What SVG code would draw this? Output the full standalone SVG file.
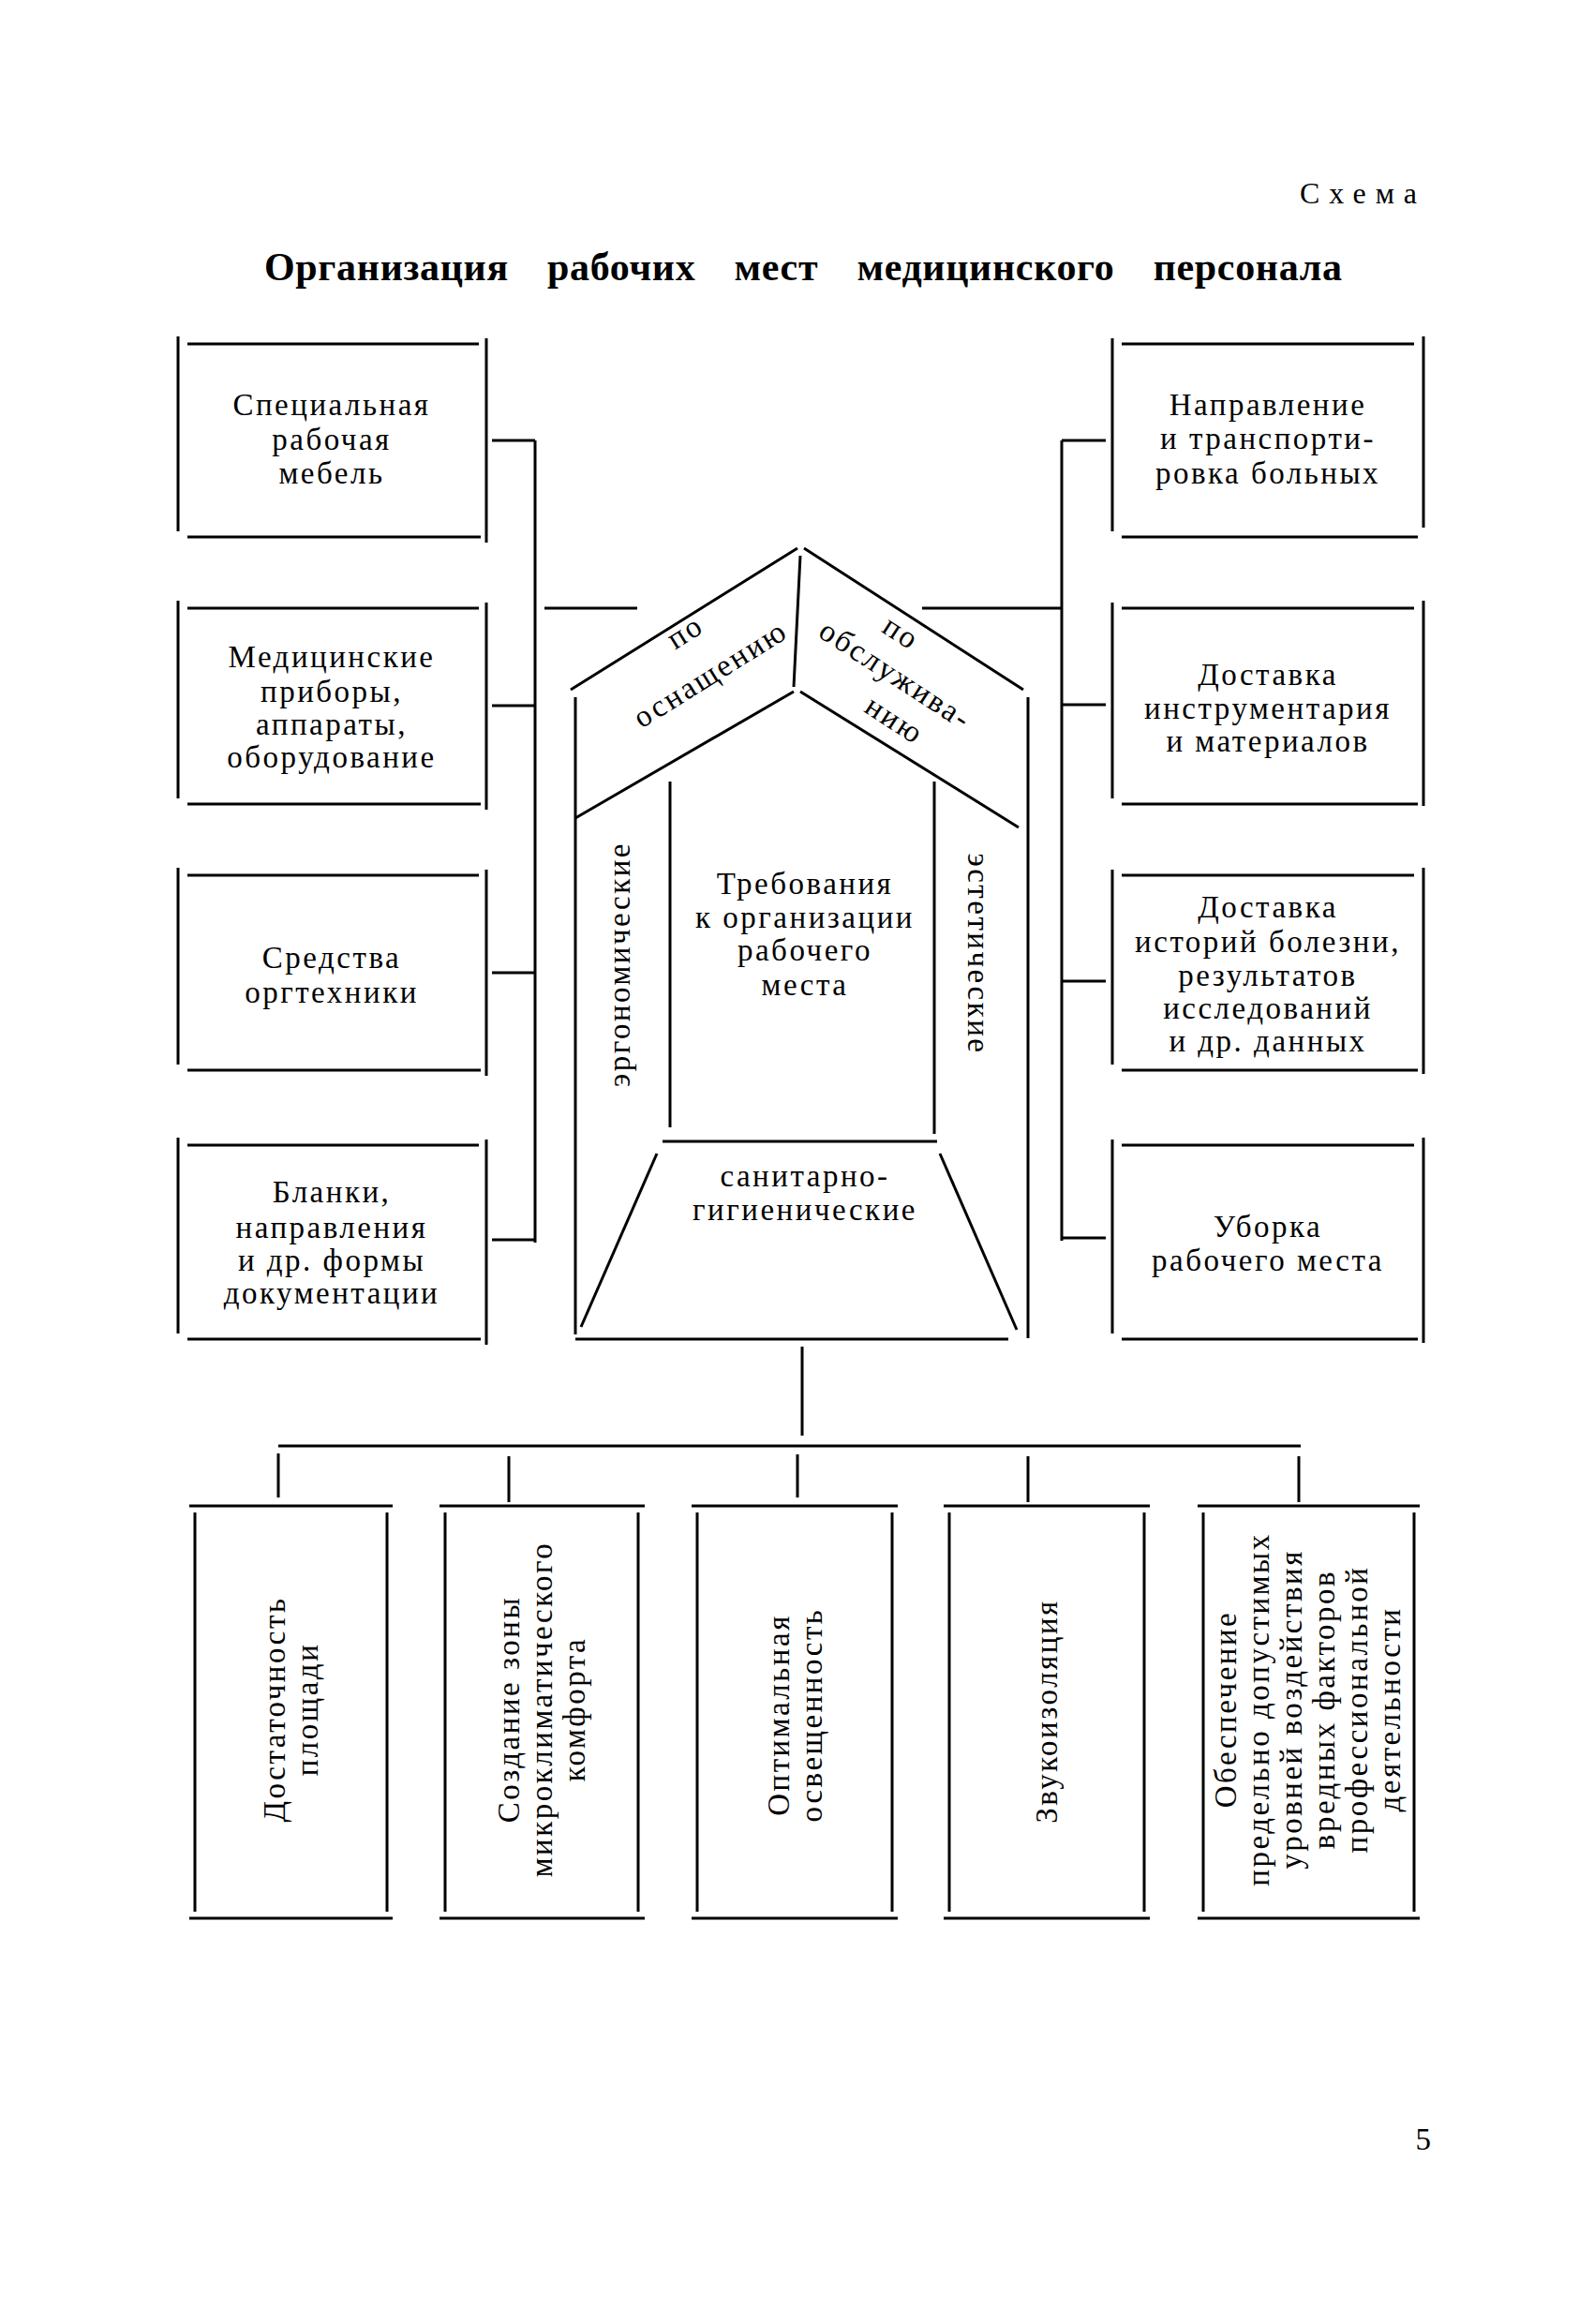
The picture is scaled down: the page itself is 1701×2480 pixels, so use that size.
<svg xmlns="http://www.w3.org/2000/svg" width="1701" height="2480" viewBox="0 0 1701 2480">
<style>
.ln{fill:none;stroke:#000;stroke-width:3;stroke-linecap:butt}
.t{font-family:"Liberation Serif","Times New Roman",serif;font-size:33px;letter-spacing:2.5px;fill:#000;text-anchor:middle}
.title{font-family:"Liberation Serif","Times New Roman",serif;font-size:42px;font-weight:bold;fill:#000;word-spacing:30px}
.sch{font-family:"Liberation Serif","Times New Roman",serif;font-size:32px;letter-spacing:10px;fill:#000;text-anchor:end}
</style>
<rect width="1701" height="2480" fill="#fff"/>
<text class="sch" x="1522" y="217">Схема</text>
<text class="title" x="282" y="299" textLength="1150" lengthAdjust="spacing">Организация рабочих мест медицинского персонала</text>

<g id="connectors">
<path class="ln" d="M571 470 V1326 M525 470 H571 M525 753 H571 M525 1038 H571 M525 1323 H571 M581 649 H680"/>
<path class="ln" d="M1133 470 V1324 M1133 470 H1180 M1133 752 H1180 M1133 1047 H1180 M1133 1321 H1180 M984 649 H1133"/>
<path class="ln" d="M856 1437 V1532 M297 1543 H1388 M297 1551 V1598 M543 1554 V1603 M851 1552 V1598 M1097 1554 V1603 M1386 1554 V1603"/>
</g>

<g id="house">
<path class="ln" d="M609 736 L851 585 M858 585 L1092 736 M854 593 L847 733"/>
<path class="ln" d="M614 873 L847 738 M854 738 L1087 883"/>
<path class="ln" d="M614 744 V1424 M1097 744 V1428"/>
<path class="ln" d="M715 834 V1203 M997 834 V1210"/>
<path class="ln" d="M707 1218 H1000 M701 1231 L620 1416 M1003 1231 L1085 1419 M614 1429 H1076"/>
<text class="t" transform="translate(731,674) rotate(-32)" y="11">по</text>
<text class="t" transform="translate(758,719) rotate(-32)" y="11">оснащению</text>
<text class="t" transform="translate(962,675) rotate(33)" y="11">по</text>
<text class="t" transform="translate(956,720) rotate(33)" y="11">обслужива-</text>
<text class="t" transform="translate(955,768) rotate(33)" y="11">нию</text>
<text class="t" transform="translate(661,1029) rotate(-90)" y="11">эргономические</text>
<text class="t" transform="translate(1044,1018) rotate(90)" y="11">эстетические</text>
<text class="t" x="859"><tspan x="859" y="954">Требования</tspan><tspan x="859" y="990">к организации</tspan><tspan x="859" y="1025">рабочего</tspan><tspan x="859" y="1062">места</tspan></text>
<text class="t" x="859"><tspan x="859" y="1266">санитарно-</tspan><tspan x="859" y="1302">гигиенические</tspan></text>
</g>

<g id="n-left1">
<path class="ln" d="M190 359 V567 M200 367 H511 M519 361 V579 M200 573 H513"/>
<text class="t"><tspan x="354" y="443">Специальная</tspan><tspan x="354" y="480">рабочая</tspan><tspan x="354" y="516">мебель</tspan></text>
</g>
<g id="n-left2">
<path class="ln" d="M190 641 V852 M200 649 H511 M519 643 V864 M200 858 H513"/>
<text class="t"><tspan x="354" y="712">Медицинские</tspan><tspan x="354" y="749">приборы,</tspan><tspan x="354" y="784">аппараты,</tspan><tspan x="354" y="819">оборудование</tspan></text>
</g>
<g id="n-left3">
<path class="ln" d="M190 926 V1136 M200 934 H511 M519 928 V1148 M200 1142 H513"/>
<text class="t"><tspan x="354" y="1033">Средства</tspan><tspan x="354" y="1070">оргтехники</tspan></text>
</g>
<g id="n-left4">
<path class="ln" d="M190 1214 V1423 M200 1222 H511 M519 1216 V1435 M200 1429 H513"/>
<text class="t"><tspan x="354" y="1283">Бланки,</tspan><tspan x="354" y="1321">направления</tspan><tspan x="354" y="1356">и др. формы</tspan><tspan x="354" y="1391">документации</tspan></text>
</g>

<g id="n-right1">
<path class="ln" d="M1187 361 V567 M1197 367 H1509 M1519 359 V563 M1197 573 H1513"/>
<text class="t"><tspan x="1353" y="443">Направление</tspan><tspan x="1353" y="479">и транспорти-</tspan><tspan x="1353" y="516">ровка больных</tspan></text>
</g>
<g id="n-right2">
<path class="ln" d="M1187 643 V852 M1197 649 H1509 M1519 641 V860 M1197 858 H1513"/>
<text class="t"><tspan x="1353" y="731">Доставка</tspan><tspan x="1353" y="767">инструментария</tspan><tspan x="1353" y="802">и материалов</tspan></text>
</g>
<g id="n-right3">
<path class="ln" d="M1187 928 V1136 M1197 934 H1509 M1519 926 V1146 M1197 1142 H1513"/>
<text class="t"><tspan x="1353" y="979">Доставка</tspan><tspan x="1353" y="1016">историй болезни,</tspan><tspan x="1353" y="1052">результатов</tspan><tspan x="1353" y="1087">исследований</tspan><tspan x="1353" y="1122">и др. данных</tspan></text>
</g>
<g id="n-right4">
<path class="ln" d="M1187 1216 V1423 M1197 1222 H1509 M1519 1214 V1433 M1197 1429 H1513"/>
<text class="t"><tspan x="1353" y="1320">Уборка</tspan><tspan x="1353" y="1356">рабочего места</tspan></text>
</g>

<g id="n-bottom1">
<path class="ln" d="M202 1607 H419 M208 1614 V2040 M413 1614 V2040 M202 2047 H419"/>
<text class="t" transform="translate(310,1824) rotate(-90)"><tspan x="0" y="-6">Достаточность</tspan><tspan x="0" y="29">площади</tspan></text>
</g>
<g id="n-bottom2">
<path class="ln" d="M469 1607 H688 M475 1614 V2040 M681 1614 V2040 M469 2047 H688"/>
<text class="t" transform="translate(578,1824) rotate(-90)"><tspan x="0" y="-24">Создание зоны</tspan><tspan x="0" y="11">микроклиматического</tspan><tspan x="0" y="46">комфорта</tspan></text>
</g>
<g id="n-bottom3">
<path class="ln" d="M738 1607 H958 M744 1614 V2040 M952 1614 V2040 M738 2047 H958"/>
<text class="t" transform="translate(848,1830) rotate(-90)"><tspan x="0" y="-6">Оптимальная</tspan><tspan x="0" y="29">освещенность</tspan></text>
</g>
<g id="n-bottom4">
<path class="ln" d="M1007 1607 H1227 M1013 1614 V2040 M1221 1614 V2040 M1007 2047 H1227"/>
<text class="t" transform="translate(1117,1826) rotate(-90)"><tspan x="0" y="11">Звукоизоляция</tspan></text>
</g>
<g id="n-bottom5">
<path class="ln" d="M1278 1607 H1515 M1284 1614 V2040 M1509 1614 V2040 M1278 2047 H1515"/>
<text class="t" transform="translate(1396,1824) rotate(-90)"><tspan x="0" y="-77">Обеспечение</tspan><tspan x="0" y="-42">предельно допустимых</tspan><tspan x="0" y="-7">уровней воздействия</tspan><tspan x="0" y="28">вредных факторов</tspan><tspan x="0" y="63">профессиональной</tspan><tspan x="0" y="98">деятельности</tspan></text>
</g>

<text class="t" x="1520" y="2294">5</text>
</svg>
